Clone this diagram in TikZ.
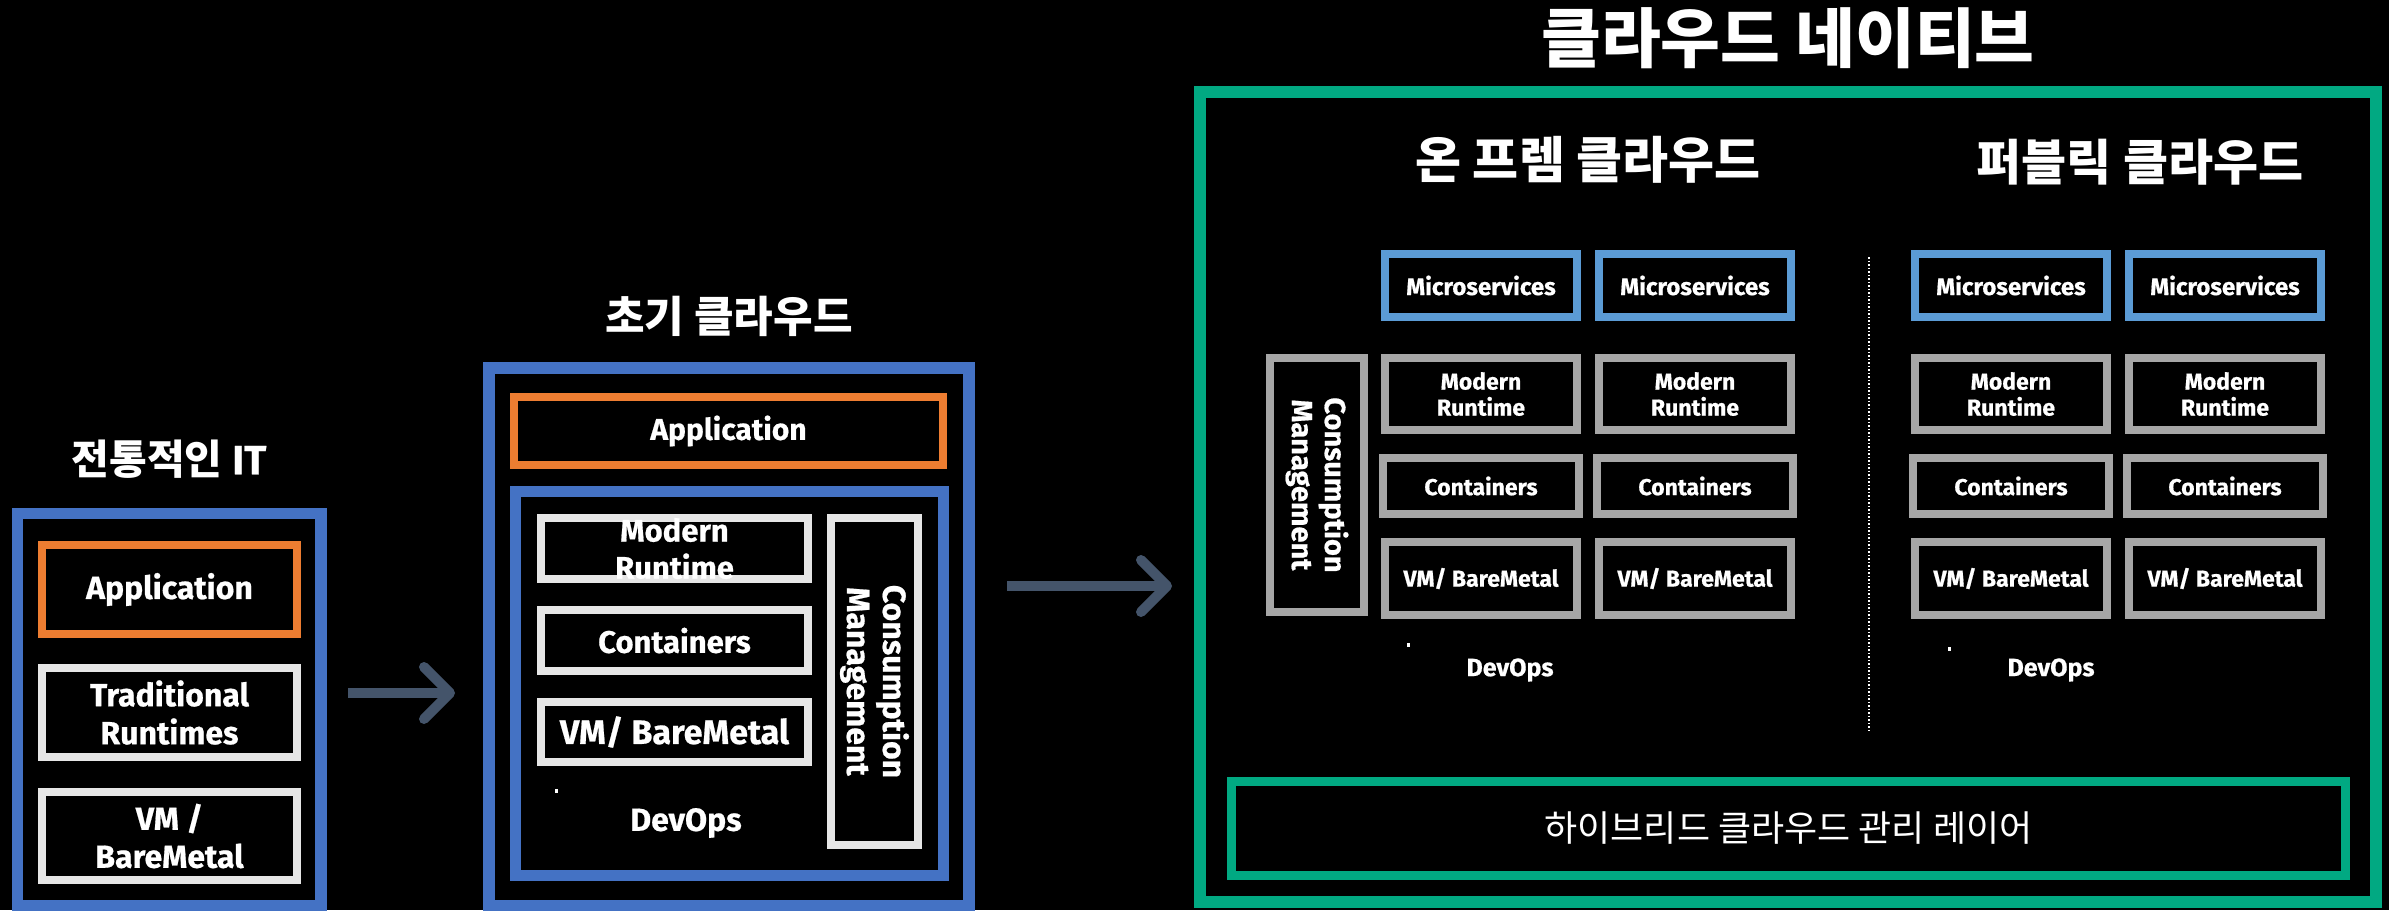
\documentclass[tikz,border=0pt]{standalone}
\usepackage{fontspec}
\setmainfont{Fira Sans}[BoldFeatures={FakeBold=0.6}]
\newfontfamily\kr{Noto Sans CJK KR}
\usetikzlibrary{arrows.meta}
\definecolor{hblue}{HTML}{4472C4}
\definecolor{horange}{HTML}{ED7D31}
\definecolor{hlgrey}{HTML}{E6E6E6}
\definecolor{hmsblue}{HTML}{5B9BD5}
\definecolor{hgrey}{HTML}{A6A6A6}
\definecolor{hgreen}{HTML}{01A982}
\definecolor{harrow}{HTML}{44546A}
\tikzset{
  box/.style={draw, line width=8pt, fill=black, text=white, inner sep=0pt, align=center},
  lfont/.style={font=\fontsize{32}{38}\selectfont\bfseries},
  mfont/.style={font=\fontsize{31}{37}\selectfont\bfseries},
  rfont/.style={font=\fontsize{23}{26}\selectfont\bfseries},
  ktitle/.style={text=white, inner sep=0pt, font=\kr\bfseries},
  arr/.style={draw=harrow, line width=10pt, -{Straight Barb[length=26pt,width=52pt,round]}},
  frame/.style={draw, fill=black, inner sep=0pt},
  tinydot/.style={fill=white, minimum width=3pt, minimum height=4pt, inner sep=0pt}
}
\begin{document}
\begin{tikzpicture}[x=1pt,y=-1pt]
\fill[black] (0,0) rectangle (2389,910);
\useasboundingbox (0,0) rectangle (2389,910);

% ---------- left group ----------
\node[ktitle, font=\fontsize{41}{44}\selectfont\bfseries] (ltitle) at (169,459) {{\kr 전통적인} IT};
\node[frame, draw=hblue, line width=11.5pt, minimum width=303.5pt, minimum height=392.5pt] (lframe) at (169.25,709.75) {};
\node[box, lfont, draw=horange, minimum width=255pt, minimum height=89pt] (lapp) at (169.5,589.5) {Application};
\node[box, lfont, draw=hlgrey, minimum width=255pt, minimum height=89pt] (ltrad) at (169.5,712.5) {Traditional\\Runtimes};
\node[box, lfont, draw=hlgrey, minimum width=255pt, minimum height=88pt] (lvm) at (169.5,836) {VM /\\BareMetal};

\coordinate (a1s) at (348,693);
\coordinate (a1e) at (455,693);
\draw[arr] (a1s) -- (a1e);

% ---------- middle group ----------
\node[ktitle, font=\kr\bfseries\fontsize{43}{46}\selectfont] (mtitle) at (729,316) {초기 클라우드};
\node[frame, draw=hblue, line width=12pt, minimum width=480pt, minimum height=538pt] (mframe) at (729,637) {};
\node[box, mfont, font=\fontsize{30}{36}\selectfont\bfseries, draw=horange, minimum width=429pt, minimum height=68pt] (mapp) at (728.5,431) {Application};
\node[frame, draw=hblue, line width=11pt, minimum width=428pt, minimum height=384pt] (minner) at (729,683) {};
\node[box, mfont, draw=hlgrey, minimum width=267pt, minimum height=61pt] (mmod) at (674.5,548.5) {Modern\\Runtime};
\node[box, mfont, draw=hlgrey, minimum width=267pt, minimum height=61pt] (mcont) at (674.5,640.5) {Containers};
\node[box, font=\fontsize{34}{38}\selectfont\bfseries, draw=hlgrey, minimum width=267pt, minimum height=60pt] (mvm) at (674.5,732) {VM/ BareMetal};
\node[box, font=\fontsize{32}{36}\selectfont\bfseries, draw=hlgrey, rotate=-90, minimum width=327pt, minimum height=87pt] (mcons) at (874.5,681.5) {Consumption\\Management};
\node[tinydot] (mdot) at (556,791) {};
\node[text=white, inner sep=0pt, font=\fontsize{32}{36}\selectfont\bfseries] (mdev) at (686,823) {DevOps};

\coordinate (a2s) at (1007,586);
\coordinate (a2e) at (1172,586);
\draw[arr] (a2s) -- (a2e);

% ---------- right group ----------
\node[ktitle, font=\kr\bfseries\fontsize{65}{68}\selectfont] (rtitle) at (1788,38) {클라우드 네이티브};
\node[frame, draw=hgreen, line width=12pt, minimum width=1176pt, minimum height=810pt] (rframe) at (1788,497) {};
\node[ktitle, font=\kr\bfseries\fontsize{50}{54}\selectfont] (onprem) at (1588,160) {온 프렘 클라우드};
\node[ktitle, font=\kr\bfseries\fontsize{49}{53}\selectfont] (public) at (2140,162) {퍼블릭 클라우드};

\foreach \c/\n in {1481/a,1695/b,2011/c,2225/d}{
  \node[box, rfont, font=\fontsize{24}{26}\selectfont\bfseries, draw=hmsblue, minimum width=192pt, minimum height=63pt] (ms\n) at (\c,285.5) {Microservices};
  \node[box, rfont, draw=hgrey, minimum width=192pt, minimum height=72pt] (mod\n) at (\c,394) {Modern\\Runtime};
  \node[box, rfont, draw=hgrey, minimum width=196pt, minimum height=56pt] (cont\n) at (\c,486) {Containers};
  \node[box, rfont, draw=hgrey, minimum width=192pt, minimum height=73pt] (vm\n) at (\c,578.5) {VM/ BareMetal};
}
\node[box, font=\fontsize{29}{33}\selectfont\bfseries, draw=hgrey, rotate=-90, minimum width=254pt, minimum height=94pt] (rcons) at (1317,485) {Consumption\\Management};

\coordinate (sepTop) at (1869,257);
\coordinate (sepBot) at (1869,733);
\draw[white, line width=1.5pt, dotted] (sepTop) -- (sepBot);

\node[tinydot] (rdot1) at (1408,645) {};
\node[tinydot] (rdot2) at (1949,649) {};
\node[text=white, inner sep=0pt, font=\fontsize{25}{28}\selectfont\bfseries] (rdev1) at (1510,670) {DevOps};
\node[text=white, inner sep=0pt, font=\fontsize{25}{28}\selectfont\bfseries] (rdev2) at (2051,670) {DevOps};

\node[box, draw=hgreen, line width=9pt, minimum width=1114pt, minimum height=94pt, font=\kr\fontsize{36}{40}\selectfont] (hybrid) at (1788.5,828.5) {하이브리드 클라우드 관리 레이어};
\end{tikzpicture}
\end{document}
